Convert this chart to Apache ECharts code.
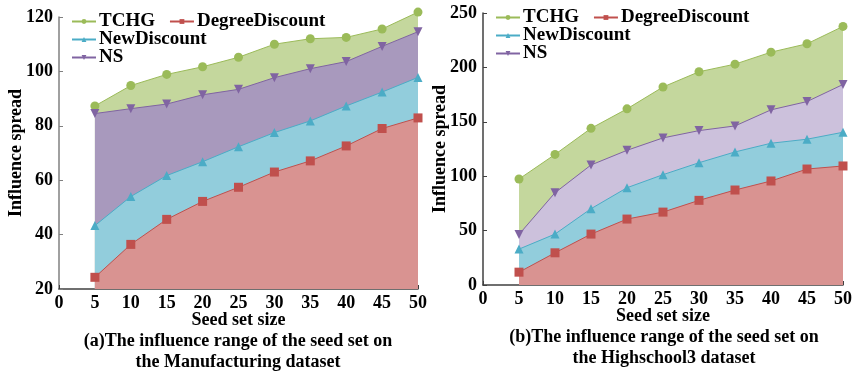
<!DOCTYPE html>
<html>
<head>
<meta charset="utf-8">
<script src="https://cdn.jsdelivr.net/npm/echarts@6/dist/echarts.min.js"></script>
<style>
  html, body { margin: 0; padding: 0; background: #fff; }
  #main { width: 864px; height: 375px; }
</style>
</head>
<body>
<div id="main"></div>
<script>
// seed set sizes (shared by both panels)
const seedSizes = [5, 10, 15, 20, 25, 30, 35, 40, 45, 50];

// (a) Manufacturing
const manuTCHG = [87.3, 94.8, 98.9, 101.7, 105.2, 110, 112, 112.5, 115.6, 121.8];
const manuNS = [84.5, 86.3, 88, 91.4, 93.4, 97.7, 101, 103.6, 109.2, 114.6];
const manuNewDiscount = [43.3, 54, 61.7, 66.8, 72.3, 77.5, 81.8, 87.3, 92.4, 97.8];
const manuDegreeDiscount = [24.3, 36.4, 45.6, 52.2, 57.4, 63, 67.1, 72.6, 79, 82.9];

// (b) Highschool3
const highTCHG = [97.4, 120, 144, 161.9, 182, 196, 203, 214, 221.7, 237.7];
const highNS = [46.5, 84.8, 110.3, 123.8, 135.2, 141.9, 146.2, 161, 168.6, 184.3];
const highNewDiscount = [33, 46.8, 70.1, 89.4, 101.4, 112.4, 122.3, 130.3, 134, 140.4];
const highDegreeDiscount = [11.8, 29.6, 46.8, 60.6, 67, 77.8, 87.3, 95.6, 106.6, 109.4];

const font = "'Liberation Serif', 'Times New Roman', serif";

function pairs(vals) {
  return seedSizes.map((x, i) => [x, vals[i]]);
}

function makeSeries(name, vals, idx, style) {
  return {
    name: name,
    type: "line",
    xAxisIndex: idx,
    yAxisIndex: idx,
    data: pairs(vals),
    clip: false,
    symbol: style.symbol,
    symbolSize: style.size,
    symbolRotate: style.rotate || 0,
    lineStyle: { color: style.line, width: 1 },
    itemStyle: { color: style.line },
    areaStyle: { color: style.fill, opacity: 1 },
    animation: false
  };
}

const sTCHG = { symbol: "circle", size: 9, line: "#9bbb59", fill: "#c4d79d" };
const sDeg = { symbol: "rect", size: 9, line: "#c0504d", fill: "#d99391" };
const sNew = { symbol: "triangle", size: 9, line: "#4bacc6", fill: "#92cddc" };
const sNSa = { symbol: "triangle", size: 9, rotate: 180, line: "#8064a2", fill: "#a899bd" };
const sNSb = { symbol: "triangle", size: 9, rotate: 180, line: "#8064a2", fill: "#ccc1dc" };

function xAxis(idx) {
  return {
    type: "value",
    gridIndex: idx,
    min: 0,
    max: 50,
    interval: 5,
    name: "Seed set size",
    nameLocation: "middle",
    nameGap: 22,
    nameMoveOverlap: false,
    nameTextStyle: { fontFamily: font, fontWeight: "bold", fontSize: 18, color: "#000" },
    axisLine: { lineStyle: { color: "#404040", width: 1.5 } },
    axisTick: { inside: true, length: 4, lineStyle: { color: "#404040" } },
    axisLabel: { fontFamily: font, fontWeight: "bold", fontSize: 18, color: "#000", margin: 5 },
    splitLine: { show: false }
  };
}

function yAxis(idx, min, max, interval, gap, lineColor) {
  return {
    type: "value",
    gridIndex: idx,
    min: min,
    max: max,
    interval: interval,
    name: "Influence spread",
    nameLocation: "middle",
    nameRotate: 90,
    nameGap: gap,
    nameMoveOverlap: false,
    nameTextStyle: { fontFamily: font, fontWeight: "bold", fontSize: 18, color: "#000" },
    axisLine: { show: true, lineStyle: { color: lineColor, width: 1.5 } },
    axisTick: { show: true, inside: true, length: 4, lineStyle: { color: lineColor } },
    axisLabel: { fontFamily: font, fontWeight: "bold", fontSize: 18, color: "#000", margin: 6 },
    splitLine: { show: false }
  };
}

function legends(left, top) {
  const base = {
    left: left,
    itemWidth: 24,
    itemHeight: 6,
    itemGap: 14,
    padding: 0,
    textStyle: { fontFamily: font, fontWeight: "bold", fontSize: 19, color: "#000", padding: [0, 0, 0, -2] }
  };
  return [
    Object.assign({}, base, { top: top, data: ["TCHG", "DegreeDiscount"] }),
    Object.assign({}, base, { top: top + 18, data: ["NewDiscount"] }),
    Object.assign({}, base, { top: top + 36, data: ["NS"] })
  ];
}

function caption(x, y, txt) {
  return {
    type: "text",
    x: x,
    y: y,
    style: { text: txt, align: "center", verticalAlign: "middle", font: "bold 18px " + font, fill: "#000" }
  };
}

const chart = echarts.init(document.getElementById("main"));
chart.setOption({
  backgroundColor: "#fff",
  animation: false,
  grid: [
    { left: 59, right: 446, top: 17, bottom: 86 },
    { left: 483, right: 21, top: 13, bottom: 90 }
  ],
  xAxis: [xAxis(0), xAxis(1)],
  yAxis: [yAxis(0, 20, 120, 20, 34, "#808080"), yAxis(1, 0, 250, 50, 34, "#404040")],
  legend: legends(71, 12).concat(legends(495, 8)),
  series: [
    makeSeries("TCHG", manuTCHG, 0, sTCHG),
    makeSeries("NS", manuNS, 0, sNSa),
    makeSeries("NewDiscount", manuNewDiscount, 0, sNew),
    makeSeries("DegreeDiscount", manuDegreeDiscount, 0, sDeg),
    makeSeries("TCHG", highTCHG, 1, sTCHG),
    makeSeries("NS", highNS, 1, sNSb),
    makeSeries("NewDiscount", highNewDiscount, 1, sNew),
    makeSeries("DegreeDiscount", highDegreeDiscount, 1, sDeg)
  ],
  graphic: [
    caption(238, 341, "(a)The influence range of the seed set on"),
    caption(238, 362, "the Manufacturing dataset"),
    caption(664, 337, "(b)The influence range of the seed set on"),
    caption(664, 358, "the Highschool3 dataset")
  ]
});
</script>
</body>
</html>
